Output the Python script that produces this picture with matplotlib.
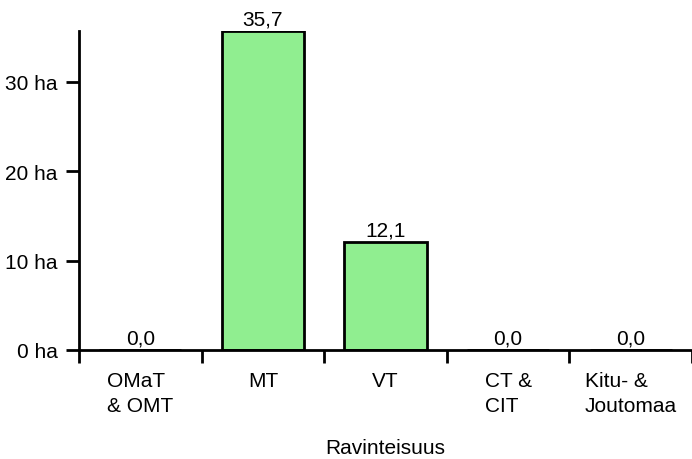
import matplotlib.pyplot as plt
import numpy as np

categories = ["OMaT\n& OMT", "MT", "VT", "CT &\nCIT", "Kitu- &\nJoutomaa"]
values = [0.0, 35.7, 12.1, 0.0, 0.0]
yticks = [0, 10, 20, 30]
ytick_labels = ["0 ha", "10 ha", "20 ha", "30 ha"]

plt.rcParams['font.family'] = ['Liberation Sans', 'DejaVu Sans']
plt.rcParams['font.size'] = 15

fig = plt.figure(figsize=(6.92, 4.6), dpi=100)
ax = fig.add_axes([79 / 692, 1 - 351 / 460, 1 - 79 / 692, (351 - 32) / 460])

x = np.arange(len(categories))
bars = ax.bar(x, values, width=0.67, color="#90EE90", edgecolor="black", linewidth=2)
for xi, v in zip(x, values):
    ax.annotate(f"{v:.1f}".replace(".", ","), (xi, v), xytext=(0, 2), textcoords="offset points",
                ha="center", va="bottom")

ax.set_xlim(-0.5, len(categories) - 0.5)
ax.set_ylim(0, 35.7)

ax.set_xticks(x)
ax.set_xticklabels(categories, multialignment="left", linespacing=1.4)
ax.set_xticks(np.arange(len(categories) + 1) - 0.5, minor=True)
ax.tick_params(axis="x", which="major", length=0, pad=15)
ax.tick_params(axis="x", which="minor", length=9.5, width=2, direction="out")

ax.set_yticks(yticks)
ax.set_yticklabels(ytick_labels)
ax.tick_params(axis="y", length=9.5, width=2, pad=6)

for s in ["top", "right"]:
    ax.spines[s].set_visible(False)
for s in ["left", "bottom"]:
    ax.spines[s].set_linewidth(2)
ax.spines["bottom"].set_zorder(5)

ax.set_xlabel("Ravinteisuus")
ax.xaxis.set_label_coords(0.5, (351 - 449) / 319)
ax.xaxis.label.set_va("center")

fig.savefig("out.png", dpi=100)
